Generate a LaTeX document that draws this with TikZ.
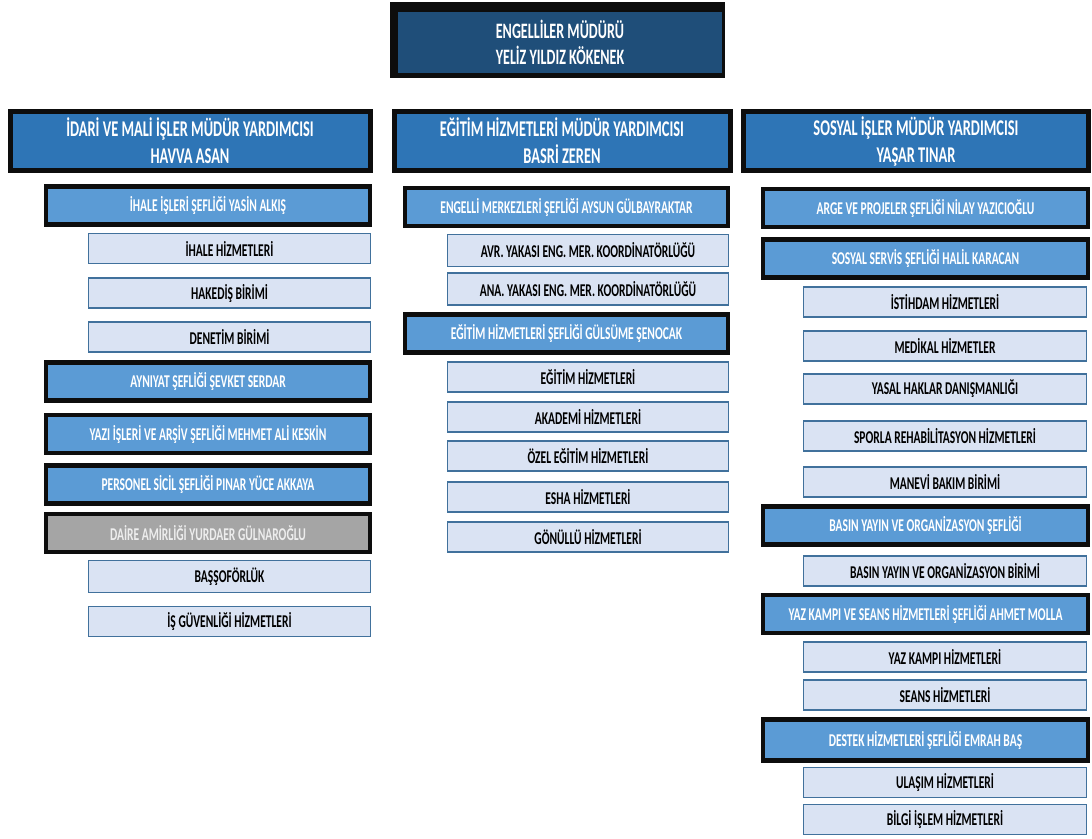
\documentclass[tikz,border=0pt]{standalone}
\usepackage{fontspec}
\setmainfont{Carlito}[FakeStretch=0.64]
\definecolor{topblue}{HTML}{1F4E79}
\definecolor{headblue}{HTML}{2E75B6}
\definecolor{chiefblue}{HTML}{5B9BD5}
\definecolor{unitfill}{HTML}{DAE3F3}
\definecolor{unitline}{HTML}{41719C}
\definecolor{frame}{HTML}{0D0D0D}
\definecolor{grayfill}{HTML}{A5A5A5}
\tikzset{
  box/.style={rectangle, inner sep=0pt, align=center, font=\bfseries\fontsize{18}{21}\selectfont},
  topframe/.style={rectangle, fill=frame, minimum width=335pt, minimum height=76pt},
  topbox/.style={box, fill=topblue, text=white, minimum width=324pt, minimum height=61pt, font=\bfseries\fontsize{22}{26}\selectfont},
  headbox/.style={box, fill=headblue, draw=frame, line width=5pt, text=white, minimum height=59pt, font=\bfseries\fontsize{22.5}{27}\selectfont},
  chiefbox/.style={box, fill=chiefblue, draw=frame, line width=4.5pt, text=white, minimum height=38pt},
  graybox/.style={chiefbox, fill=grayfill, text=white!93!black},
  unitbox/.style={box, fill=unitfill, draw=unitline, line width=1.5pt, minimum height=30pt},
  leftchief/.style={chiefbox, minimum width=324pt},
  midchief/.style={chiefbox, minimum width=323pt},
  rightchief/.style={chiefbox, minimum width=325pt},
  leftunit/.style={unitbox, minimum width=282pt},
  midunit/.style={unitbox, minimum width=281pt},
  rightunit/.style={unitbox, minimum width=283pt}
}

\begin{document}
\begin{tikzpicture}[x=1pt, y=-1pt]
  \useasboundingbox (0,0) rectangle (1092,838);

  \node[topframe] (mudurframe) at (557.5,40) {};
  \node[topbox] (mudur) at (560,42) {ENGELLİLER MÜDÜRÜ\\YELİZ YILDIZ KÖKENEK};

  \node[headbox, minimum width=360pt] (idari) at (190,141) {İDARİ VE MALİ İŞLER MÜDÜR YARDIMCISI\\HAVVA ASAN};
  \node[headbox, minimum width=336pt] (egitim) at (562,141) {EĞİTİM HİZMETLERİ MÜDÜR YARDIMCISI\\BASRİ ZEREN};
  \node[headbox, minimum width=345pt] (sosyal) at (916,141) {SOSYAL İŞLER MÜDÜR YARDIMCISI\\YAŞAR TINAR};

  \node[leftchief] (ihaleisleri) at (208,205.5) {İHALE İŞLERİ ŞEFLİĞİ YASİN ALKIŞ};
  \node[leftunit] (ihalehiz) at (229.5,248.5) {İHALE HİZMETLERİ};
  \node[leftunit] (hakedis) at (229.5,293) {HAKEDİŞ BİRİMİ};
  \node[leftunit] (denetim) at (229.5,337) {DENETİM BİRİMİ};
  \node[leftchief] (ayniyat) at (208,381.5) {AYNIYAT ŞEFLİĞİ ŞEVKET SERDAR};
  \node[leftchief] (yaziisleri) at (208,434) {YAZI İŞLERİ VE ARŞİV ŞEFLİĞİ MEHMET ALİ KESKİN};
  \node[leftchief] (personel) at (208,484.5) {PERSONEL SİCİL ŞEFLİĞİ PINAR YÜCE AKKAYA};
  \node[graybox, minimum width=324pt] (daire) at (208,533) {DAİRE AMİRLİĞİ YURDAER GÜLNAROĞLU};
  \node[leftunit, minimum height=32pt] (bassoforluk) at (229.5,576.5) {BAŞŞOFÖRLÜK};
  \node[leftunit] (isguvenligi) at (229.5,621.5) {İŞ GÜVENLİĞİ HİZMETLERİ};

  \node[midchief] (engelli) at (566.5,207) {ENGELLİ MERKEZLERİ ŞEFLİĞİ AYSUN GÜLBAYRAKTAR};
  \node[midunit, minimum height=32pt] (avr) at (588,250.5) {AVR. YAKASI ENG. MER. KOORDİNATÖRLÜĞÜ};
  \node[midunit, minimum height=32pt] (ana) at (588,289) {ANA. YAKASI ENG. MER. KOORDİNATÖRLÜĞÜ};
  \node[midchief] (egitimsef) at (566.5,333.5) {EĞİTİM HİZMETLERİ ŞEFLİĞİ GÜLSÜME ŞENOCAK};
  \node[midunit] (egitimhiz) at (588,377) {EĞİTİM HİZMETLERİ};
  \node[midunit] (akademi) at (588,417) {AKADEMİ HİZMETLERİ};
  \node[midunit] (ozel) at (588,456) {ÖZEL EĞİTİM HİZMETLERİ};
  \node[midunit] (esha) at (588,497) {ESHA HİZMETLERİ};
  \node[midunit] (gonullu) at (588,537) {GÖNÜLLÜ HİZMETLERİ};

  \node[rightchief] (arge) at (925.5,208) {ARGE VE PROJELER ŞEFLİĞİ NİLAY YAZICIOĞLU};
  \node[rightchief] (sosyalservis) at (925.5,258.5) {SOSYAL SERVİS ŞEFLİĞİ HALİL KARACAN};
  \node[rightunit] (istihdam) at (945,302) {İSTİHDAM HİZMETLERİ};
  \node[rightunit] (medikal) at (945,346) {MEDİKAL HİZMETLER};
  \node[rightunit] (yasal) at (945,389) {YASAL HAKLAR DANIŞMANLIĞI};
  \node[rightunit] (sporla) at (945,436) {SPORLA REHABİLİTASYON HİZMETLERİ};
  \node[rightunit] (manevi) at (945,482) {MANEVİ BAKIM BİRİMİ};
  \node[rightchief] (basinsef) at (925.5,525.5) {BASIN YAYIN VE ORGANİZASYON ŞEFLİĞİ};
  \node[rightunit] (basinbirim) at (945,571) {BASIN YAYIN VE ORGANİZASYON BİRİMİ};
  \node[rightchief] (yazkampisef) at (925.5,614) {YAZ KAMPI VE SEANS HİZMETLERİ ŞEFLİĞİ AHMET MOLLA};
  \node[rightunit] (yazkampihiz) at (945,657) {YAZ KAMPI HİZMETLERİ};
  \node[rightunit] (seans) at (945,695) {SEANS HİZMETLERİ};
  \node[rightchief, minimum height=41pt] (destek) at (925.5,740) {DESTEK HİZMETLERİ ŞEFLİĞİ EMRAH BAŞ};
  \node[rightunit] (ulasim) at (945,782.5) {ULAŞIM HİZMETLERİ};
  \node[rightunit] (bilgi) at (945,819.5) {BİLGİ İŞLEM HİZMETLERİ};
\end{tikzpicture}
\end{document}
